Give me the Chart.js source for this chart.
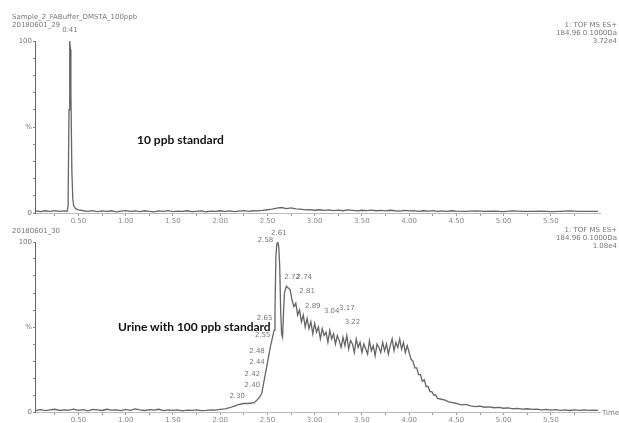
<!DOCTYPE html>
<html>
<head>
<meta charset="utf-8">
<script src="https://cdn.jsdelivr.net/npm/chart.js@4.4.1/dist/chart.umd.min.js"></script>
<style>
  body { margin: 0; background: #fff; width: 619px; height: 423px; overflow: hidden; position: relative; font-family: "DejaVu Sans", sans-serif; }
  .panel { position: absolute; left: 0; width: 619px; }
  .hdr { position: absolute; font-size: 7px; color: #777; line-height: 8px; white-space: nowrap; }
  .hdr.right { text-align: right; right: 2px; }
  .note { position: absolute; font-family: Lato, "Open Sans", sans-serif; font-weight: bold; font-size: 12px; color: #111; white-space: nowrap; }
</style>
</head>
<body>
<div class="panel" style="top:0;height:228px"><canvas id="topChart" width="619" height="228"></canvas></div>
<div class="panel" style="top:228px;height:195px"><canvas id="bottomChart" width="619" height="195"></canvas></div>

<div class="hdr" style="left:12px;top:13px">Sample_2_FABuffer_DMSTA_100ppb<br>20180601_29</div>
<div class="hdr right" style="top:21px">1: TOF MS ES+<br>184.96 0.1000Da<br>3.72e4</div>
<div class="hdr" style="left:12px;top:227px">20180601_30</div>
<div class="hdr right" style="top:226px">1: TOF MS ES+<br>184.96 0.1000Da<br>1.08e4</div>
<div class="hdr" style="left:602px;top:409px">Time</div>
<div class="note" style="left:137px;top:132px">10 ppb standard</div>
<div class="note" style="left:118px;top:319px">Urine with 100 ppb standard</div>

<script>
// retention time axis (min)
const timeMin = 0.04;
const timeMax = 6.02;
const xTickValues = [0.25, 0.50, 0.75, 1.00, 1.25, 1.50, 1.75, 2.00, 2.25, 2.50, 2.75, 3.00,
                     3.25, 3.50, 3.75, 4.00, 4.25, 4.50, 4.75, 5.00, 5.25, 5.50, 5.75];
const xTickLabels = ['0.50', '1.00', '1.50', '2.00', '2.50', '3.00', '3.50', '4.00', '4.50', '5.00', '5.50'];
const yTickValues = [0, 10, 20, 30, 40, 50, 60, 70, 80, 90, 100];
const yTickLabels = { 0: '0', 50: '%', 100: '100' };

// 10 ppb standard trace
const topTimes = [0.05, 0.10, 0.15, 0.20, 0.25, 0.30, 0.35, 0.38, 0.39, 0.40, 0.405, 0.41, 0.415, 0.42, 0.43, 0.44, 0.45, 0.47, 0.50,
  0.55, 0.60, 0.65, 0.70, 0.75, 0.80, 0.85, 0.90, 0.95, 1.00, 1.05, 1.10, 1.15, 1.20, 1.25, 1.30, 1.35, 1.40, 1.45, 1.50,
  1.55, 1.60, 1.65, 1.70, 1.75, 1.80, 1.85, 1.90, 1.95, 2.00, 2.05, 2.10, 2.15, 2.20, 2.25, 2.30, 2.35, 2.40, 2.45, 2.50,
  2.55, 2.60, 2.65, 2.70, 2.75, 2.80, 2.85, 2.90, 2.95, 3.00, 3.05, 3.10, 3.15, 3.20, 3.25, 3.30, 3.35, 3.40, 3.45, 3.50,
  3.55, 3.60, 3.65, 3.70, 3.75, 3.80, 3.85, 3.90, 3.95, 4.00, 4.05, 4.10, 4.15, 4.20, 4.25, 4.30, 4.35, 4.40, 4.45, 4.50,
  4.60, 4.70, 4.80, 4.90, 5.00, 5.10, 5.20, 5.30, 5.40, 5.50, 5.60, 5.70, 5.80, 5.90, 6.00];
const topValues = [1.2, 0.8, 1.3, 0.9, 1.4, 1.0, 1.2, 1.0, 4, 60, 96, 100, 95, 70, 25, 8, 4, 2.5, 1.8,
  1.3, 1.0, 1.4, 0.8, 1.2, 0.9, 1.3, 0.7, 1.1, 1.4, 0.9, 1.2, 0.8, 1.3, 1.0, 0.7, 1.2, 1.0, 1.4, 0.8,
  1.1, 0.9, 1.3, 0.8, 1.0, 1.2, 0.7, 1.1, 0.9, 1.3, 1.0, 1.2, 0.8, 1.1, 1.4, 1.0, 1.3, 1.2, 1.5, 1.9,
  2.3, 2.8, 3.2, 2.6, 3.0, 2.4, 2.2, 1.8, 2.0, 1.6, 1.9, 1.5, 1.8, 1.4, 1.7, 1.3, 1.8, 1.5, 1.2, 1.6,
  1.4, 1.7, 1.3, 1.5, 1.2, 1.6, 1.3, 1.1, 1.5, 1.2, 1.4, 1.0, 1.3, 1.1, 1.4, 0.9, 1.2, 1.0, 1.3, 1.1,
  0.9, 1.2, 1.0, 1.1, 0.8, 1.2, 0.9, 1.0, 1.1, 0.8, 1.0, 1.2, 0.9, 1.0, 0.9];

// urine with 100 ppb standard trace
const bottomTimes = [0.05, 0.10, 0.15, 0.20, 0.25, 0.30, 0.35, 0.40, 0.45, 0.50, 0.55, 0.60, 0.65, 0.70, 0.75, 0.80,
  0.85, 0.90, 0.95, 1.00, 1.05, 1.10, 1.15, 1.20, 1.25, 1.30, 1.35, 1.40, 1.45, 1.50, 1.55, 1.60, 1.65, 1.70, 1.75,
  1.80, 1.85, 1.90, 1.95, 2.00, 2.05, 2.10, 2.15, 2.20, 2.25, 2.30, 2.33, 2.36, 2.39, 2.42, 2.44, 2.46, 2.48, 2.51,
  2.53, 2.55, 2.57, 2.58, 2.59, 2.60, 2.61, 2.62, 2.63, 2.64, 2.65, 2.66, 2.67, 2.68, 2.70, 2.72, 2.74, 2.76, 2.78,
  2.80, 2.82, 2.84, 2.86, 2.88, 2.90, 2.92, 2.94, 2.96, 2.98,
  3.00, 3.02, 3.04, 3.06, 3.08, 3.10, 3.12, 3.14, 3.16, 3.18,
  3.20, 3.22, 3.24, 3.26, 3.28, 3.30, 3.32, 3.34, 3.36, 3.38,
  3.40, 3.42, 3.44, 3.46, 3.48, 3.50, 3.52, 3.54, 3.56, 3.58,
  3.60, 3.62, 3.64, 3.66, 3.68, 3.70, 3.72, 3.74, 3.76, 3.78,
  3.80, 3.82, 3.84, 3.86, 3.88, 3.90, 3.92, 3.94, 3.96, 3.98,
  4.00, 4.02, 4.04, 4.06, 4.08, 4.10, 4.12, 4.14, 4.16, 4.18, 4.20, 4.22, 4.24, 4.26, 4.28, 4.30,
  4.34, 4.38, 4.42, 4.46, 4.50,
  4.55, 4.60, 4.65, 4.70, 4.75, 4.80, 4.85, 4.90, 4.95, 5.00, 5.05, 5.10, 5.15, 5.20, 5.25,
  5.30, 5.35, 5.40, 5.45, 5.50, 5.55, 5.60, 5.65, 5.70, 5.75, 5.80, 5.85, 5.90, 5.95, 6.00];
const bottomValues = [1.0, 1.4, 0.8, 1.2, 1.6, 0.9, 1.3, 1.1, 1.7, 1.0, 1.4, 0.7, 1.5, 1.2, 0.9, 1.6,
  1.1, 1.3, 0.8, 1.5, 1.0, 1.8, 1.2, 0.9, 1.4, 1.1, 1.6, 0.8, 1.2, 1.0, 1.3, 0.7, 1.1, 0.9, 1.2,
  0.8, 1.0, 1.3, 1.1, 1.6, 1.8, 2.5, 3.5, 4.5, 5.0, 5.0, 5.3, 5.5, 7, 9, 11, 17, 23, 32,
  38, 43, 48, 60, 92, 99, 100, 97, 86, 60, 46, 44, 58, 70, 74, 73, 72, 66, 62,
  64, 57, 60, 53, 57, 50, 55, 49, 53, 46,
  52, 47, 50, 43, 49, 45, 47, 41, 48, 43,
  46, 40, 45, 42, 38, 44, 39, 45, 37, 42,
  40, 35, 43, 38, 41, 35, 40, 37, 34, 42,
  36, 39, 33, 40, 38, 35, 41, 36, 40, 34,
  39, 43, 36, 41, 38, 43, 37, 41, 35, 39,
  35, 31, 30, 26, 26, 22, 22, 18, 19, 15, 15, 12, 12, 10, 10, 8,
  7.5, 7, 6, 5.5, 5,
  4.2, 4.5, 3.6, 3.2, 3.5, 2.8, 3.0, 2.5, 2.7, 2.2, 2.4, 1.9, 2.1, 1.7, 1.9,
  1.5, 1.7, 1.3, 1.5, 1.1, 1.4, 1.0, 1.3, 0.9, 1.2, 1.0, 1.3, 0.9, 1.1, 1.0];

// peak annotations: retention time, intensity at label, text
const topPeakTimes = [0.41];
const topPeakValues = [104];
const topPeakTexts = ['0.41'];
const bottomPeakTimes = [2.18, 2.34, 2.34, 2.39, 2.39, 2.45, 2.47, 2.48, 2.62, 2.76, 2.89, 2.92, 2.98, 3.18, 3.34, 3.40];
const bottomPeakValues = [7, 14, 20, 27, 34, 43, 53, 99, 103, 77, 77, 69, 60, 57, 59, 51];
const bottomPeakTexts = ['2.30', '2.40', '2.42', '2.44', '2.48', '2.55', '2.65', '2.58', '2.61', '2.72', '2.74', '2.81', '2.89', '3.04', '3.17', '3.22'];

const peakLabelPlugin = {
  id: 'peakLabels',
  afterDatasetsDraw(chart, args, opts) {
    const ctx = chart.ctx;
    const xs = chart.scales.x, ys = chart.scales.y;
    ctx.save();
    ctx.font = '7px "DejaVu Sans", sans-serif';
    ctx.fillStyle = '#777';
    ctx.textAlign = 'center';
    ctx.textBaseline = 'bottom';
    opts.times.forEach((t, i) => {
      ctx.fillText(opts.texts[i], xs.getPixelForValue(t), ys.getPixelForValue(opts.values[i]));
    });
    ctx.restore();
  }
};

function makeChart(id, times, values, padTop, xHeight, peaks) {
  const pts = times.map((t, i) => ({ x: t, y: values[i] }));
  return new Chart(document.getElementById(id), {
    type: 'line',
    data: {
      datasets: [{
        data: pts,
        borderColor: '#666',
        borderWidth: 1.3,
        pointRadius: 0,
        tension: 0
      }]
    },
    options: {
      responsive: false,
      animation: false,
      layout: { padding: { top: padTop, right: 19, left: 0, bottom: 0 } },
      plugins: {
        legend: { display: false },
        tooltip: { enabled: false },
        peakLabels: peaks
      },
      scales: {
        x: {
          type: 'linear',
          min: timeMin,
          max: timeMax,
          afterBuildTicks: s => { s.ticks = xTickValues.map(v => ({ value: v })); },
          afterFit: s => { s.height = xHeight; },
          ticks: {
            autoSkip: false,
            maxRotation: 0,
            padding: 1,
            font: { size: 7, family: '"DejaVu Sans", sans-serif' },
            color: '#888',
            callback: v => {
              const lbl = v.toFixed(2);
              return xTickLabels.includes(lbl) ? lbl : '';
            }
          },
          grid: { drawOnChartArea: false, drawTicks: true, tickLength: 3, color: '#999' },
          border: { display: true, color: '#bbb', dash: [1, 1] }
        },
        y: {
          min: 0,
          max: 100,
          afterBuildTicks: s => { s.ticks = yTickValues.map(v => ({ value: v })); },
          afterFit: s => { s.width = 35; },
          ticks: {
            autoSkip: false,
            padding: 1,
            font: { size: 7, family: '"DejaVu Sans", sans-serif' },
            color: '#777',
            callback: v => yTickLabels[v] || ''
          },
          grid: { drawOnChartArea: false, drawTicks: true, tickLength: 2, color: '#888' },
          border: { display: true, color: '#666', dash: [1, 1] }
        }
      }
    },
    plugins: [peakLabelPlugin]
  });
}

makeChart('topChart', topTimes, topValues, 41, 15,
  { times: topPeakTimes, values: topPeakValues, texts: topPeakTexts });
makeChart('bottomChart', bottomTimes, bottomValues, 14, 11,
  { times: bottomPeakTimes, values: bottomPeakValues, texts: bottomPeakTexts });
</script>
</body>
</html>
